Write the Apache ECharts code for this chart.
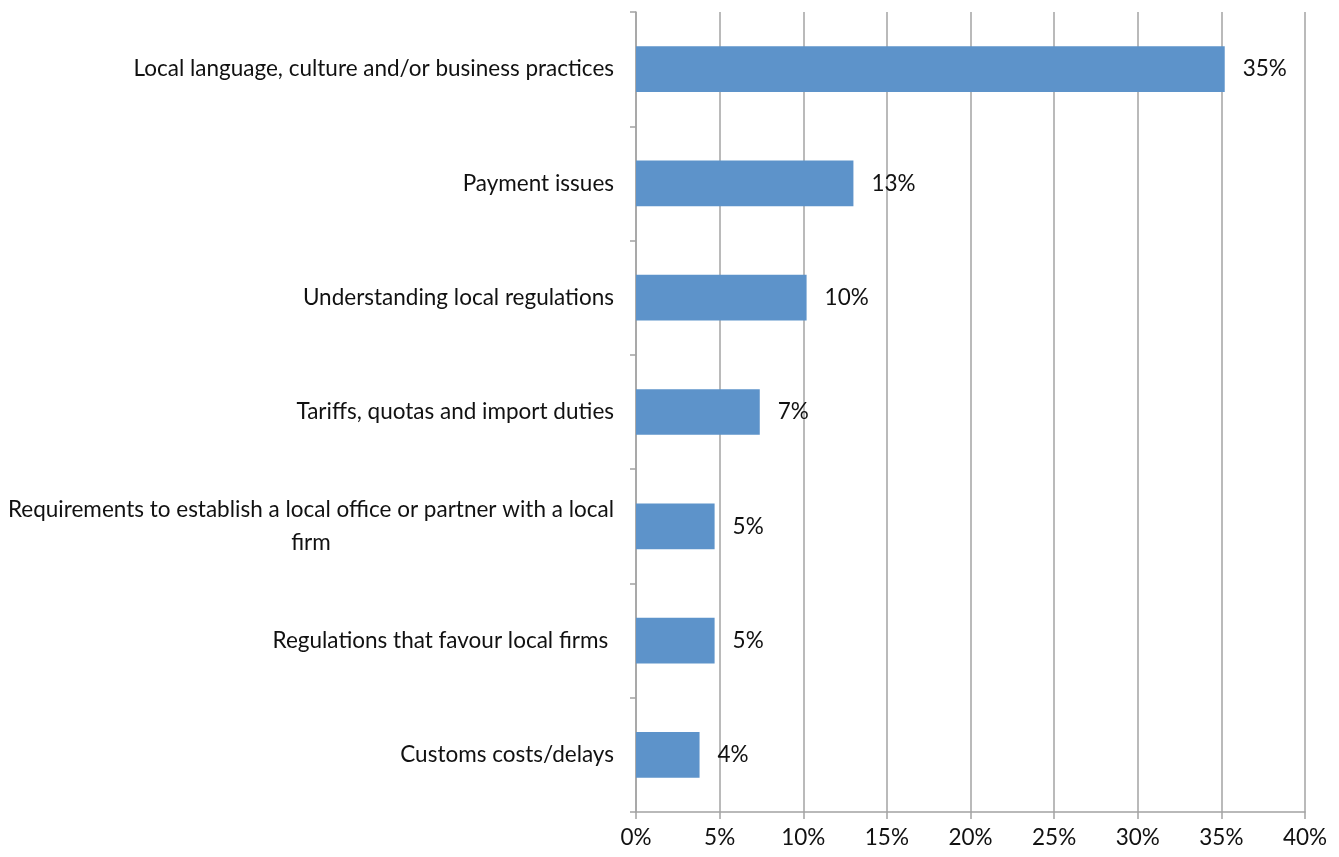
<!DOCTYPE html>
<html>
<head>
<meta charset="utf-8">
<script src="https://cdn.jsdelivr.net/npm/echarts@6/dist/echarts.min.js"></script>
<style>
  html, body { margin: 0; padding: 0; background: #ffffff; }
  #chart { width: 1339px; height: 857px; }
</style>
</head>
<body>
<div id="chart"></div>
<script>
// Barriers named by respondents, share of responses (%)
const categories = [
  'Local language, culture and/or business practices',
  'Payment issues',
  'Understanding local regulations',
  'Tariffs, quotas and import duties',
  'Requirements to establish a local office or partner with a local\nfirm',
  'Regulations that favour local firms ',
  'Customs costs/delays'
];
const shares = [35.2, 13.0, 10.2, 7.4, 4.7, 4.7, 3.8];
const xTicks = [0, 5, 10, 15, 20, 25, 30, 35, 40];

const FONT = 'Lato, "Open Sans", sans-serif';
const GRID_COLOR = '#a3a3a3';
const TEXT_COLOR = '#111111';
const FONT_SIZE = 22.5;

const chart = echarts.init(document.getElementById('chart'));
chart.setOption({
  animation: false,
  backgroundColor: '#ffffff',
  grid: { left: 636, right: 34, top: 12, bottom: 45, containLabel: false },
  xAxis: {
    type: 'value',
    min: xTicks[0],
    max: xTicks[xTicks.length - 1],
    interval: 5,
    axisLine: { show: true, lineStyle: { color: GRID_COLOR, width: 1.5 } },
    axisTick: { show: true, length: 7, lineStyle: { color: GRID_COLOR, width: 1.5 } },
    splitLine: { show: true, lineStyle: { color: GRID_COLOR, width: 1.5 } },
    axisLabel: {
      margin: 14,
      color: TEXT_COLOR,
      fontFamily: FONT,
      fontSize: FONT_SIZE,
      formatter: v => v + '%'
    }
  },
  yAxis: {
    type: 'category',
    inverse: true,
    data: categories,
    axisLine: { show: true, lineStyle: { color: GRID_COLOR, width: 1.5 } },
    axisTick: { show: true, length: 6, lineStyle: { color: GRID_COLOR, width: 1.5 } },
    axisLabel: {
      margin: 22,
      color: TEXT_COLOR,
      fontFamily: FONT,
      fontSize: FONT_SIZE,
      lineHeight: 33,
      formatter: v => '{c|' + v + '}',
      rich: {
        c: { align: 'center', color: TEXT_COLOR, fontFamily: FONT, fontSize: FONT_SIZE, lineHeight: 33 }
      }
    }
  },
  series: [{
    type: 'bar',
    data: shares,
    barCategoryGap: '60%',
    itemStyle: { color: '#5d93ca' },
    label: {
      show: true,
      position: 'right',
      distance: 18,
      color: TEXT_COLOR,
      fontFamily: FONT,
      fontSize: FONT_SIZE,
      formatter: p => Math.round(p.value) + '%'
    }
  }]
});
</script>
</body>
</html>
